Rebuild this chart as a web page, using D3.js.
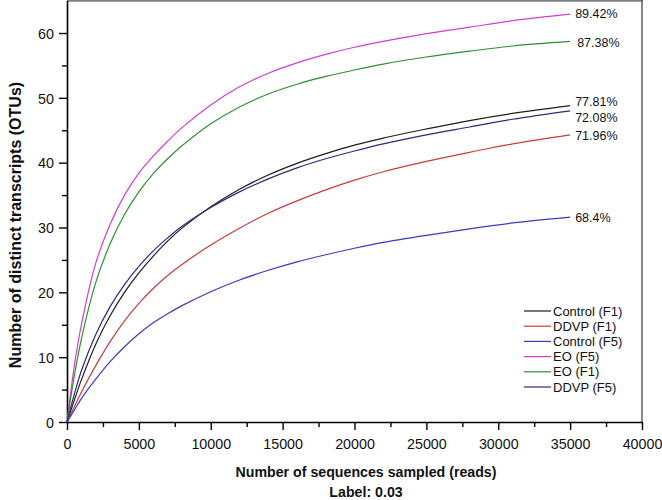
<!DOCTYPE html>
<html>
<head>
<meta charset="utf-8">
<script src="https://cdn.jsdelivr.net/npm/d3@7"></script>
<style>
  html, body { margin: 0; padding: 0; background: #fff; }
  svg { display: block; font-family: "Liberation Sans", Arial, sans-serif; }
</style>
</head>
<body>
<svg id="chart" width="662" height="500"></svg>
<script>
// ---- data ----
const reads = [0, 500, 1000, 2000, 3000, 4000, 5000, 6000, 7000, 8000, 10000, 12000, 14000, 16000, 18000, 20000, 22000, 25000, 28000, 31000, 35000];
const seriesNames = ["Control (F1)", "DDVP (F1)", "Control (F5)", "EO (F5)", "EO (F1)", "DDVP (F5)"];
const controlF1 = [0, 3.3, 6.5, 12.0, 16.4, 20.0, 23.0, 25.6, 27.9, 29.9, 33.2, 35.9, 38.1, 39.9, 41.4, 42.7, 43.8, 45.2, 46.5, 47.6, 48.8];
const ddvpF1    = [0, 2.3, 4.6, 8.7, 12.4, 15.6, 18.3, 20.6, 22.6, 24.3, 27.3, 29.9, 32.2, 34.1, 35.8, 37.3, 38.6, 40.2, 41.6, 42.9, 44.3];
const controlF5 = [0, 1.8, 3.6, 6.6, 9.3, 11.6, 13.6, 15.3, 16.7, 17.95, 20.1, 21.9, 23.4, 24.7, 25.8, 26.8, 27.7, 28.8, 29.8, 30.7, 31.6];
const eoF5      = [0, 8.5, 15.0, 24.5, 30.5, 35.0, 38.4, 41.0, 43.3, 45.4, 48.9, 51.7, 53.8, 55.4, 56.7, 57.8, 58.7, 59.9, 60.9, 61.9, 62.9];
const eoF1      = [0, 7.0, 12.8, 21.5, 27.5, 32.0, 35.5, 38.3, 40.6, 42.6, 46.0, 48.6, 50.6, 52.1, 53.3, 54.3, 55.2, 56.3, 57.2, 58.0, 58.7];
const ddvpF5    = [0, 4.2, 7.9, 13.5, 17.8, 21.2, 24.0, 26.4, 28.4, 30.2, 33.1, 35.5, 37.5, 39.2, 40.6, 41.8, 42.9, 44.3, 45.5, 46.7, 48.0];
const coverageLabels = ["77.81%", "71.96%", "68.4%", "89.42%", "87.38%", "72.08%"];
const xTicks = [0, 5000, 10000, 15000, 20000, 25000, 30000, 35000, 40000];
const xMinorTicks = [2500, 7500, 12500, 17500, 22500, 27500, 32500, 37500];
const yTicks = [0, 10, 20, 30, 40, 50, 60];
const yMinorTicks = [5, 15, 25, 35, 45, 55];
const xTitle = "Number of sequences sampled (reads)";
const xSubTitle = "Label: 0.03";
const yTitle = "Number of distinct transcripts (OTUs)";

// ---- styles / layout ----
const colors = ["#1e1e1e", "#cc3a3a", "#3a3ac4", "#d23cd2", "#2f8f2f", "#2b2b7e"];
const labelDy = [-4, 1, 0, -1, 1, 7];     // pixel nudges for the end labels
const labelDx = [0, 0, 0, 0, 2, 0];
const allValues = [controlF1, ddvpF1, controlF5, eoF5, eoF1, ddvpF5];

const svg = d3.select("#chart");
const x = d3.scaleLinear().domain([0, 40000]).range([67, 642]);
const y = d3.scaleLinear().domain([0, 65]).range([422, 0.6]);

// frame (top & right)
svg.append("line").attr("x1", 67).attr("x2", 643).attr("y1", 0.8).attr("y2", 0.8)
  .attr("stroke", "#808080").attr("stroke-width", 2);
svg.append("line").attr("x1", 642).attr("x2", 642).attr("y1", 0).attr("y2", 422)
  .attr("stroke", "#555").attr("stroke-width", 1.4);

// axes
function styleAxis(g) {
  g.select(".domain").attr("stroke", "#000").attr("stroke-width", 1.6);
  g.selectAll(".tick line").attr("stroke", "#000").attr("stroke-width", 1.4);
  g.selectAll("text").attr("fill", "#111").attr("font-size", 14.3)
    .attr("font-family", "'Liberation Sans', Arial, sans-serif");
}
const gx = svg.append("g").attr("transform", "translate(0,422)")
  .call(d3.axisBottom(x).tickValues(xTicks).tickSize(8).tickSizeOuter(0).tickPadding(9).tickFormat(d3.format("d")));
styleAxis(gx);
const gxm = svg.append("g").attr("transform", "translate(0,422)")
  .call(d3.axisBottom(x).tickValues(xMinorTicks).tickSize(5).tickFormat(""));
styleAxis(gxm); gxm.select(".domain").remove();

const gy = svg.append("g").attr("transform", "translate(67,0)")
  .call(d3.axisLeft(y).tickValues(yTicks).tickSize(8).tickSizeOuter(0).tickPadding(5));
styleAxis(gy);
gy.selectAll("text").attr("dy", "0.36em");
const gym = svg.append("g").attr("transform", "translate(67,0)")
  .call(d3.axisLeft(y).tickValues(yMinorTicks).tickSize(5).tickFormat(""));
styleAxis(gym); gym.select(".domain").remove();

// curves
const line = d3.line().x(d => x(d[0])).y(d => y(d[1])).curve(d3.curveCatmullRom.alpha(0.5));
allValues.forEach((vals, i) => {
  const pts = reads.map((r, j) => [r, vals[j]]);
  svg.append("path").datum(pts).attr("d", line)
    .attr("fill", "none").attr("stroke", colors[i]).attr("stroke-width", 1.2);
  const last = pts[pts.length - 1];
  svg.append("text").attr("x", x(last[0]) + 5 + labelDx[i]).attr("y", y(last[1]) + labelDy[i])
    .attr("dy", "0.35em").attr("font-size", 12.5).attr("fill", "#111")
    .text(coverageLabels[i]);
});

// legend
const legend = svg.append("g");
seriesNames.forEach((name, i) => {
  const ly = 311 + i * 15.2;
  legend.append("line").attr("x1", 524).attr("x2", 551).attr("y1", ly).attr("y2", ly)
    .attr("stroke", colors[i]).attr("stroke-width", 1.2);
  legend.append("text").attr("x", 553).attr("y", ly).attr("dy", "0.35em")
    .attr("font-size", 13).attr("fill", "#111").text(name);
});

// titles
svg.append("text").attr("x", 366).attr("y", 477).attr("text-anchor", "middle")
  .attr("font-size", 14.2).attr("font-weight", "bold").attr("fill", "#111").text(xTitle);
svg.append("text").attr("x", 366).attr("y", 497).attr("text-anchor", "middle")
  .attr("font-size", 14.2).attr("font-weight", "bold").attr("fill", "#111").text(xSubTitle);
svg.append("text").attr("transform", "translate(21,225) rotate(-90)").attr("text-anchor", "middle")
  .attr("font-size", 16).attr("font-weight", "bold").attr("fill", "#111").text(yTitle);
</script>
</body>
</html>
